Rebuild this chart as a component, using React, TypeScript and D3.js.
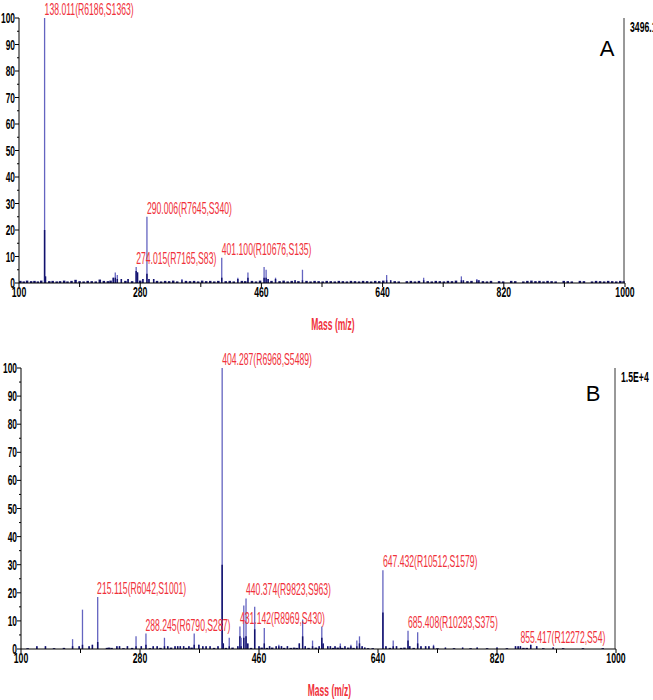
import React from 'react';
import * as d3 from 'd3';

// peaks: [m/z, relative intensity %, dark (lower) part %]
const peaksA: [number, number, number][] = [
  [138.011, 100, 20], [139.3, 2.5, 2.5], [240, 2, 2], [243, 4, 2], [246, 3, 1.5], [252, 1.5, 1.5],
  [262, 1.5, 1.5], [274.015, 6, 4.5], [276, 4, 4], [284, 1.5, 1.5], [290.006, 25, 3.5], [293, 1.5, 1.5],
  [300, 1.5, 1.5], [342, 1.5, 1], [401.1, 9.5, 2], [425, 2, 1.5], [440, 4, 2], [464, 6, 2],
  [467, 5, 2], [470, 1.5, 1.5], [481, 2, 1.5], [510, 1, 1], [521, 5, 1], [646, 3, 1], [652, 1, 1],
  [701, 2, 1], [757, 2.5, 1], [760, 1, 1], [780, 1.5, 1], [783, 1, 1],
];

// baseline noise of spectrum A: [m/z, %]
const noiseA: [number, number][] = [
  [102, 0.8], [107, 0.6], [112, 0.9], [118, 0.7], [123, 0.8], [128, 0.6], [133, 0.9], [145, 0.7],
  [150, 0.8], [156, 0.6], [161, 0.7], [167, 0.9], [172, 0.6], [178, 0.8], [184, 1.2], [190, 0.7],
  [196, 0.6], [202, 0.8], [208, 0.7], [214, 0.6], [220, 1.3], [226, 0.8], [232, 0.7], [236, 0.9],
  [258, 0.8], [268, 0.7], [280, 0.9], [305, 0.8], [311, 0.6], [317, 0.8], [323, 0.7], [329, 0.9],
  [335, 0.6], [348, 0.8], [354, 0.7], [360, 0.8], [366, 0.6], [372, 0.9], [378, 0.7], [384, 0.8],
  [390, 0.6], [396, 0.8], [407, 0.7], [413, 0.8], [419, 0.6], [431, 0.8], [436, 0.7], [446, 0.8],
  [452, 0.6], [458, 0.9], [475, 0.8], [487, 0.7], [493, 0.9], [499, 0.6], [505, 0.8], [515, 0.7],
  [527, 0.8], [533, 0.6], [539, 0.8], [545, 0.7], [551, 0.6], [557, 0.8], [563, 0.7], [569, 0.6],
  [575, 0.8], [581, 0.7], [587, 0.6], [593, 0.8], [599, 0.7], [605, 0.6], [611, 0.8], [617, 0.7],
  [623, 0.6], [629, 0.8], [635, 0.7], [641, 0.9], [658, 0.7], [664, 0.6], [676, 0.7], [682, 0.8],
  [688, 0.6], [694, 0.8], [707, 0.7], [713, 0.6], [719, 0.8], [725, 0.7], [731, 0.6], [737, 0.8],
  [743, 0.7], [749, 0.9], [766, 0.7], [772, 0.8], [789, 0.7], [795, 0.6], [801, 0.8], [813, 0.7],
  [819, 0.6], [831, 0.8], [837, 0.7], [849, 0.6], [855, 0.8], [861, 0.9], [867, 0.7], [873, 0.8],
  [879, 0.6], [885, 0.8], [891, 0.7], [897, 0.6], [909, 0.8], [915, 0.7], [921, 0.6], [933, 0.8],
  [939, 0.7], [951, 0.6], [957, 0.8], [963, 0.7], [969, 0.6], [975, 0.8], [981, 0.7], [987, 0.6],
  [993, 0.8], [998, 0.7],
];

const labelsA: [number, number, string][] = [
  [138.011, 100, '138.011(R6186,S1363)'],
  [290.006, 25, '290.006(R7645,S340)'],
  [274.015, 6, '274.015(R7165,S83)'],
  [401.1, 9.5, '401.100(R10676,S135)'],
];

const peaksB: [number, number, number][] = [
  [124, 1, 1], [137, 1, 1], [178, 3.5, 1], [188, 1, 1], [193, 14, 1.5], [203, 1, 1], [208, 1.5, 1.5],
  [216, 18.5, 2.5], [245, 1, 1], [249, 1, 1], [261, 1, 1], [274, 4.5, 1], [282, 1, 1], [289, 5.5, 1.5],
  [300, 1, 1], [306, 1, 1], [317, 4, 1], [322, 1, 1], [333, 1, 1], [337, 1, 1], [341, 1, 1],
  [346, 1, 1], [354, 1, 1], [362, 5.5, 1.5], [369, 1.5, 1.5], [375, 1, 1], [380, 1, 1], [386, 1, 1],
  [398, 1, 1], [404.287, 100, 30], [406, 2, 2], [415, 4, 1], [428, 1, 1], [431.142, 8, 4.5],
  [433, 4, 1], [437, 15.5, 4], [440.374, 18, 4.5], [443, 2, 2], [453.5, 15, 7], [460, 1, 1],
  [468, 7.5, 2], [476, 1, 1], [486, 1, 1], [490, 1.5, 1], [494, 1, 1], [503, 1, 1], [521, 2, 2],
  [526, 10.5, 4.5], [530, 1, 1], [541, 3, 1], [551, 1, 1], [555, 8, 4], [557, 2, 2], [564, 1, 1],
  [568, 1, 1], [575, 1, 1], [583, 2, 1], [590, 1, 1], [599, 1.5, 1], [608, 3, 1], [612, 4.5, 2],
  [616, 1, 1], [620, 0.5, 0.5], [647.432, 28, 13], [652, 1, 1], [663, 3, 1], [668, 1, 1],
  [685.408, 6.5, 3], [688, 1, 1], [700, 6, 2], [705, 1, 1], [712, 1, 1], [717, 1, 1], [724, 1.5, 1],
  [742, 0.5, 0.5], [768, 0.5, 0.5], [790, 0.5, 0.5], [820, 0.5, 0.5], [848, 1, 1], [852, 1, 1],
  [855.417, 1, 1], [871, 1.5, 1.5], [880, 1, 1], [905, 0.5, 0.5],
];

const noiseB: [number, number][] = [
  [110, 0.3], [150, 0.3], [165, 0.4], [230, 0.4], [233, 0.5], [237, 0.4], [255, 0.3], [268, 0.4],
  [295, 0.3], [311, 0.4], [327, 0.5], [350, 0.4], [358, 0.5], [392, 0.4], [410, 0.4], [420, 0.5],
  [448, 0.4], [464, 0.5], [472, 0.4], [480, 0.5], [498, 0.4], [508, 0.4], [513, 0.5], [517, 0.4],
  [535, 0.4], [546, 0.5], [572, 0.4], [579, 0.5], [586, 0.4], [595, 0.5], [603, 0.4], [625, 0.3],
  [632, 0.3], [658, 0.4], [675, 0.4], [680, 0.5], [694, 0.4], [730, 0.3], [755, 0.3], [780, 0.3],
  [805, 0.3], [835, 0.3], [860, 0.4], [865, 0.4], [890, 0.3], [920, 0.3], [950, 0.3], [980, 0.3],
];

const labelsB: [number, number, string][] = [
  [404.287, 100, '404.287(R6968,S5489)'],
  [215.115, 18.5, '215.115(R6042,S1001)'],
  [288.245, 5.5, '288.245(R6790,S287)'],
  [440.374, 18, '440.374(R9823,S963)'],
  [431.142, 8, '431.142(R8969,S430)'],
  [647.432, 28, '647.432(R10512,S1579)'],
  [685.408, 6.5, '685.408(R10293,S375)'],
  [855.417, 1, '855.417(R12272,S54)'],
];

const xTicks = d3.range(100, 1001, 90);
const xTickLabels = [100, 280, 460, 640, 820, 1000];
const yMajor = d3.range(0, 101, 10);
const yMinor = d3.range(5, 100, 10);

const FONT = '"Liberation Sans", Arial, sans-serif';
const RED = '#f0303a';
const LIGHT = '#6464c0';
const DARK = '#12126c';

function SText({ x, y, sx, size, weight, fill, anchor, children }: any) {
  return (
    <text
      transform={`translate(${x},${y}) scale(${sx},1)`}
      fontFamily={FONT}
      fontSize={size}
      fontWeight={weight || 'normal'}
      fill={fill}
      textAnchor={anchor || 'start'}
    >
      {children}
    </text>
  );
}

function Spectrum({ peaks, noise, labels, left, right, top, bottom, letter, letterX, letterY, maxText }: any) {
  const x = d3.scaleLinear().domain([100, 1000]).range([left, right]);
  const y = d3.scaleLinear().domain([0, 100]).range([bottom, top]);
  return (
    <g>
      {noise.map(([m, v]: [number, number], i: number) => (
        <line key={'n' + i} x1={x(m)} x2={x(m)} y1={y(0)} y2={y(v)} stroke={DARK} strokeWidth={2.5} />
      ))}
      {peaks.map(([m, v, d]: [number, number, number], i: number) => (
        <g key={'p' + i}>
          <line x1={x(m)} x2={x(m)} y1={y(0)} y2={y(v)} stroke={LIGHT} strokeWidth={1.3} />
          <line x1={x(m)} x2={x(m)} y1={y(0)} y2={y(d)} stroke={DARK} strokeWidth={1.5} />
        </g>
      ))}
      {/* axes */}
      <line x1={left} x2={left} y1={top} y2={bottom} stroke="#000" strokeWidth={1} />
      <line x1={left} x2={right} y1={bottom} y2={bottom} stroke="#000" strokeWidth={1.2} />
      <line x1={right - 1} x2={right - 1} y1={top} y2={bottom} stroke="#333" strokeWidth={1} />
      {yMajor.map((t) => (
        <g key={'ym' + t}>
          <line x1={left - 4} x2={left} y1={y(t)} y2={y(t)} stroke="#000" />
          <SText x={left - 4} y={y(t) + 5} sx={0.6} size={14} weight="bold" fill="#000" anchor="end">
            {t}
          </SText>
        </g>
      ))}
      {yMinor.map((t) => (
        <line key={'yn' + t} x1={left - 2} x2={left} y1={y(t)} y2={y(t)} stroke="#000" />
      ))}
      {xTicks.map((t) => (
        <line key={'xt' + t} x1={x(t)} x2={x(t)} y1={bottom} y2={bottom + 4} stroke="#000" />
      ))}
      {xTickLabels.map((t) => (
        <SText key={'xl' + t} x={x(t)} y={bottom + 14} sx={0.62} size={14} weight="bold" fill="#000" anchor="middle">
          {t}
        </SText>
      ))}
      <SText x={(left + right) / 2 + 11} y={bottom + 47} sx={0.5} size={17} weight="bold" fill={RED} anchor="middle">
        Mass (m/z)
      </SText>
      {labels.map(([m, v, s]: [number, number, string], i: number) => (
        <SText key={'l' + i} x={x(m)} y={y(v) - 3} sx={0.54} size={16} fill={RED}>
          {s}
        </SText>
      ))}
      <text x={letterX} y={letterY} fontFamily={FONT} fontSize={22} textAnchor="middle" fill="#000">
        {letter}
      </text>
      <SText x={right + 5} y={top + 14} sx={0.62} size={14} weight="bold" fill="#000">
        {maxText}
      </SText>
    </g>
  );
}

export default function App() {
  return (
    <svg width={653} height={700} style={{ position: 'absolute', left: 0, top: 0, background: '#fff' }}>
      <rect width={653} height={700} fill="#fff" />
      <Spectrum
        peaks={peaksA} noise={noiseA} labels={labelsA}
        left={19} right={625} top={18} bottom={283}
        letter="A" letterX={607} letterY={56} maxText="3496.1"
      />
      <Spectrum
        peaks={peaksB} noise={noiseB} labels={labelsB}
        left={21} right={616} top={368} bottom={649}
        letter="B" letterX={593} letterY={401} maxText="1.5E+4"
      />
    </svg>
  );
}
